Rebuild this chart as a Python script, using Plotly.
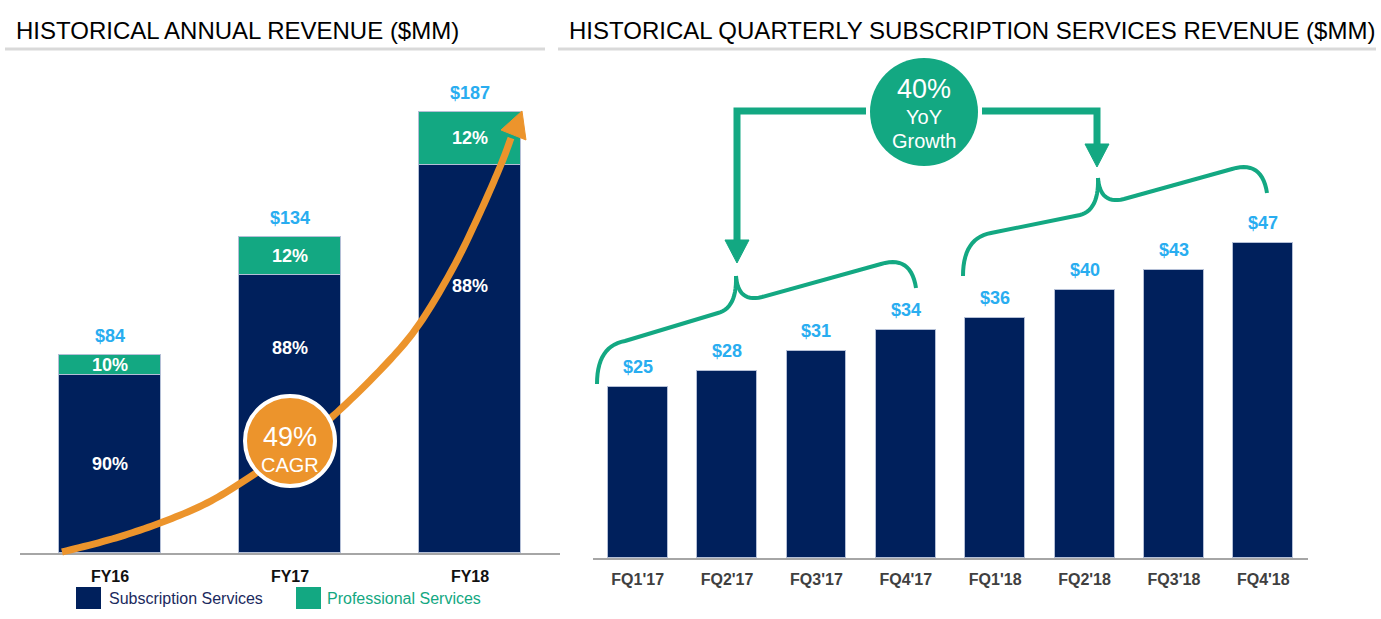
import plotly.graph_objects as go

W, H = 1381, 619

# ---------------- data ----------------
years = ['FY16', 'FY17', 'FY18']
annual_total = [84, 134, 187]
subscription_rev = [75.6, 117.9, 164.6]
professional_rev = [8.4, 16.1, 22.4]
subscription_pct = ['90%', '88%', '88%']
professional_pct = ['10%', '12%', '12%']
total_labels = ['$84', '$134', '$187']

quarters = ["FQ1'17", "FQ2'17", "FQ3'17", "FQ4'17", "FQ1'18", "FQ2'18", "FQ3'18", "FQ4'18"]
quarterly_sub_rev = [25.5, 27.9, 30.9, 34.0, 35.8, 40.0, 43.0, 47.0]
quarter_labels = ['$25', '$28', '$31', '$34', '$36', '$40', '$43', '$47']

# ---------------- style ----------------
NAVY = '#00205C'
GREEN = '#13A882'
LBLUE = '#29ADF0'
ORANGE = '#EC942C'
AXIS = '#A6A6A6'
FONT = 'Liberation Sans, Arial, sans-serif'


def px(x):
    return x / W


def py(y):
    return 1 - y / H


def path(points, close=False):
    s = 'M ' + ' L '.join(f'{px(x):.5f},{py(y):.5f}' for x, y in points)
    return s + (' Z' if close else '')


def catmull(pts, n=12):
    out = []
    P = [pts[0]] + pts + [pts[-1]]
    for i in range(1, len(P) - 2):
        p0, p1, p2, p3 = P[i - 1], P[i], P[i + 1], P[i + 2]
        for k in range(n):
            t = k / n
            t2, t3 = t * t, t * t * t
            x = 0.5 * ((2 * p1[0]) + (-p0[0] + p2[0]) * t + (2 * p0[0] - 5 * p1[0] + 4 * p2[0] - p3[0]) * t2 + (-p0[0] + 3 * p1[0] - 3 * p2[0] + p3[0]) * t3)
            y = 0.5 * ((2 * p1[1]) + (-p0[1] + p2[1]) * t + (2 * p0[1] - 5 * p1[1] + 4 * p2[1] - p3[1]) * t2 + (-p0[1] + 3 * p1[1] - 3 * p2[1] + p3[1]) * t3)
            out.append((x, y))
    out.append(pts[-1])
    return out


def qbez(p0, c, p1, n=14):
    return [((1 - t) ** 2 * p0[0] + 2 * (1 - t) * t * c[0] + t * t * p1[0],
             (1 - t) ** 2 * p0[1] + 2 * (1 - t) * t * c[1] + t * t * p1[1])
            for t in [i / n for i in range(n + 1)]]


fig = go.Figure()

# annual stacked bars
fig.add_trace(go.Bar(x=years, y=subscription_rev, name='Subscription Services',
                     marker=dict(color=NAVY, line=dict(color='#B4BFD6', width=1)),
                     width=0.57, xaxis='x', yaxis='y', hoverinfo='skip'))
fig.add_trace(go.Bar(x=years, y=professional_rev, name='Professional Services',
                     marker=dict(color=GREEN, line=dict(color='#B4BFD6', width=1)),
                     width=0.57, xaxis='x', yaxis='y', hoverinfo='skip'))

# quarterly bars
fig.add_trace(go.Bar(x=quarters, y=quarterly_sub_rev, name='Quarterly',
                     marker=dict(color=NAVY, line=dict(color='#B4BFD6', width=1)),
                     width=0.67, xaxis='x2', yaxis='y2', hoverinfo='skip'))

annotations = []


def ptext(x, y, text, size, color, xanchor='center'):
    annotations.append(dict(x=px(x), y=py(y), xref='paper', yref='paper', text=text,
                            xanchor=xanchor, yanchor='middle', showarrow=False,
                            font=dict(family=FONT, size=size, color=color)))


# totals
for yr, tot, lab in zip(years, annual_total, total_labels):
    annotations.append(dict(x=yr, y=tot, xref='x', yref='y', text=f'<b>{lab}</b>',
                            showarrow=False, xanchor='center', yanchor='bottom', yshift=7,
                            font=dict(family=FONT, size=18, color=LBLUE)))
# percentages
sub_label_frac = [0.5, 0.737, 0.687]
for yr, s, p, sp, pp, fr in zip(years, subscription_rev, professional_rev,
                                subscription_pct, professional_pct, sub_label_frac):
    annotations.append(dict(x=yr, y=s * fr, xref='x', yref='y', text=f'<b>{sp}</b>',
                            showarrow=False, xanchor='center', yanchor='middle',
                            font=dict(family=FONT, size=18, color='white')))
    annotations.append(dict(x=yr, y=s + p / 2, xref='x', yref='y', text=f'<b>{pp}</b>',
                            showarrow=False, xanchor='center', yanchor='middle',
                            font=dict(family=FONT, size=18, color='white')))
# quarterly labels
for q, v, lab in zip(quarters, quarterly_sub_rev, quarter_labels):
    annotations.append(dict(x=q, y=v, xref='x2', yref='y2', text=f'<b>{lab}</b>',
                            showarrow=False, xanchor='center', yanchor='bottom', yshift=8,
                            font=dict(family=FONT, size=18, color=LBLUE)))

# titles
ptext(14, 30, 'HISTORICAL ANNUAL REVENUE ($MM)', 24, '#000000', 'left')
ptext(567, 30, 'HISTORICAL QUARTERLY SUBSCRIPTION SERVICES REVENUE ($MM)', 24, '#000000', 'left')

# legend texts
ptext(107, 598, 'Subscription Services', 16, '#1B2A5E', 'left')
ptext(325, 598, 'Professional Services', 16, GREEN, 'left')

# circle texts
ptext(290, 437, '49%', 27, 'white')
ptext(290, 465, 'CAGR', 20, 'white')
ptext(924, 89, '40%', 27, 'white')
ptext(924, 117, 'YoY', 20, 'white')
ptext(924, 141, 'Growth', 20, 'white')

shapes = []
# title underlines
shapes.append(dict(type='line', xref='paper', yref='paper', x0=px(5), x1=px(545), y0=py(49), y1=py(49),
                   line=dict(color='#D9D9D9', width=3)))
shapes.append(dict(type='line', xref='paper', yref='paper', x0=px(558), x1=px(1376), y0=py(49), y1=py(49),
                   line=dict(color='#D9D9D9', width=3)))
# legend squares
shapes.append(dict(type='rect', xref='paper', yref='paper', x0=px(76), x1=px(101), y0=py(609), y1=py(587),
                   fillcolor=NAVY, line=dict(width=0)))
shapes.append(dict(type='rect', xref='paper', yref='paper', x0=px(296), x1=px(321), y0=py(609), y1=py(587),
                   fillcolor=GREEN, line=dict(width=0)))

# orange growth arrow
curve_pts = [(62, 552), (112, 539), (160, 523), (207, 503), (250, 477), (290, 449),
             (333, 416), (387, 363), (420, 323), (453, 268), (478, 217), (500, 167), (511, 138)]
shapes.append(dict(type='path', xref='paper', yref='paper', path=path(catmull(curve_pts)),
                   line=dict(color=ORANGE, width=7), layer='above'))
shapes.append(dict(type='path', xref='paper', yref='paper',
                   path=path([(522, 111), (501, 130), (526, 140)], close=True),
                   fillcolor=ORANGE, line=dict(color=ORANGE, width=1), layer='above'))
# CAGR circle
shapes.append(dict(type='circle', xref='paper', yref='paper', x0=px(290 - 45), x1=px(290 + 45),
                   y0=py(441 + 45), y1=py(441 - 45), fillcolor=ORANGE,
                   line=dict(color='white', width=4), layer='above'))

# YoY circle and arrows
shapes.append(dict(type='circle', xref='paper', yref='paper', x0=px(924 - 54), x1=px(924 + 54),
                   y0=py(112 + 54), y1=py(112 - 54), fillcolor=GREEN,
                   line=dict(color=GREEN, width=0), layer='above'))
shapes.append(dict(type='path', xref='paper', yref='paper',
                   path=path([(866, 111), (737, 111), (737, 243)]),
                   line=dict(color=GREEN, width=7), layer='above'))
shapes.append(dict(type='path', xref='paper', yref='paper',
                   path=path([(725, 240), (749, 240), (737, 263)], close=True),
                   fillcolor=GREEN, line=dict(color=GREEN, width=1), layer='above'))
shapes.append(dict(type='path', xref='paper', yref='paper',
                   path=path([(982, 111), (1097, 111), (1097, 147)]),
                   line=dict(color=GREEN, width=7), layer='above'))
shapes.append(dict(type='path', xref='paper', yref='paper',
                   path=path([(1085, 144), (1109, 144), (1097, 167)], close=True),
                   fillcolor=GREEN, line=dict(color=GREEN, width=1), layer='above'))


def brace(x0, y0, tipx, tipy, x1, y1):
    a = qbez((x0, y0), (x0, y0 - 38), (x0 + 28, y0 - 43))
    b_end = (tipx - 18, tipy + 37)
    t1 = qbez(b_end, (tipx + 1, tipy + 32), (tipx, tipy))
    t2 = qbez((tipx, tipy), (tipx + 2, tipy + 27), (tipx + 26, tipy + 21))
    r_start = (x1 - 35, y1 - 24)
    r = qbez(r_start, (x1 - 5, y1 - 33), (x1, y1))
    left = a + [b_end] + t1[1:]
    right = t2 + [r_start] + r[1:]
    return left, right


for args in [(597, 384, 736, 276, 916, 288), (963, 276, 1098, 178, 1267, 193)]:
    l, r = brace(*args)
    shapes.append(dict(type='path', xref='paper', yref='paper', path=path(l),
                       line=dict(color=GREEN, width=4), layer='above'))
    shapes.append(dict(type='path', xref='paper', yref='paper', path=path(r),
                       line=dict(color=GREEN, width=4), layer='above'))

fig.update_layout(
    width=W, height=H, autosize=False,
    margin=dict(l=0, r=0, t=0, b=0),
    paper_bgcolor='white', plot_bgcolor='rgba(0,0,0,0)',
    barmode='stack', bargap=0, showlegend=False,
    font=dict(family=FONT),
    xaxis=dict(domain=[px(20), px(560)], range=[-0.5, 2.5], type='category',
               showline=True, linecolor=AXIS, linewidth=1.5, showgrid=False, zeroline=False,
               ticks='outside', ticklen=8, tickcolor='rgba(0,0,0,0)',
               tickfont=dict(family=FONT, size=16, color='#111111', weight='bold'), fixedrange=True),
    yaxis=dict(domain=[py(553), py(60)], range=[0, (553 - 60) / 2.36], visible=False, fixedrange=True),
    xaxis2=dict(domain=[px(593), px(1308)], range=[-0.5, 7.5], type='category', anchor='y2',
                showline=True, linecolor=AXIS, linewidth=1.5, showgrid=False, zeroline=False,
                ticks='outside', ticklen=6, tickcolor='rgba(0,0,0,0)',
                tickfont=dict(family=FONT, size=16, color='#404040', weight='bold'), fixedrange=True),
    yaxis2=dict(domain=[py(558), py(60)], range=[0, (558 - 60) / 6.7], anchor='x2', visible=False,
                fixedrange=True),
    annotations=annotations,
    shapes=shapes,
)

fig.write_html('out.html', config={'displayModeBar': False},
               post_script="document.body.style.margin='0';document.body.style.overflow='hidden';")
